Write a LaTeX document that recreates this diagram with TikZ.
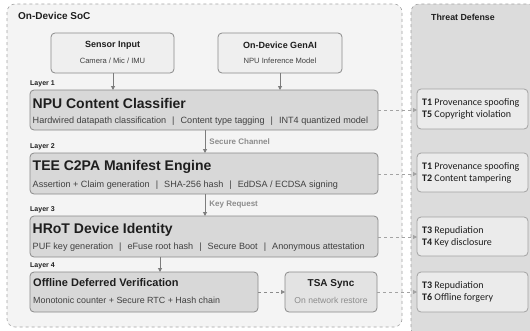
\documentclass[tikz,border=0pt]{standalone}
\usepackage{fontspec}
\setmainfont{Liberation Sans}
\newfontfamily\threatfont{Carlito}
\usetikzlibrary{arrows.meta}
\definecolor{panelA}{HTML}{F4F4F4}
\definecolor{panelB}{HTML}{DCDCDC}
\definecolor{layerfill}{HTML}{D8D8D8}
\definecolor{srcfill}{HTML}{EFEFEF}
\definecolor{threatfill}{HTML}{EBEBEB}
\definecolor{edge}{HTML}{8A8A8A}
\definecolor{ink}{HTML}{1E1E1E}
\definecolor{soft}{HTML}{8C8C8C}
% separator between feature items
\newcommand{\featsep}{\hspace{3.5pt} | \hspace{3.5pt}}
\tikzset{
  panel/.style={draw=soft!80, dashed, rounded corners=8pt, line width=0.6pt},
  box/.style={draw=edge, rounded corners=4pt, line width=0.8pt},
  flow/.style={draw=edge!90!black, line width=0.9pt, -{Triangle[length=4pt,width=4pt]}},
  guard/.style={draw=soft!80, dashed, line width=0.8pt, -{Triangle[length=4pt,width=4pt]}},
  lbl/.style={font=\bfseries\fontsize{7}{8}\selectfont, text=ink, anchor=west, inner sep=0pt},
  ttl/.style={font=\bfseries\fontsize{14}{16}\selectfont, text=ink, anchor=west, inner sep=0pt},
  sub/.style={font=\fontsize{9.1}{11}\selectfont, text=ink!85, anchor=west, inner sep=0pt},
  thr/.style={font=\threatfont\fontsize{10}{12}\selectfont, text=ink, anchor=west, inner sep=0pt, align=left},
  mid/.style={font=\bfseries\fontsize{8}{9}\selectfont, text=soft, inner sep=0pt},
}
\begin{document}
\begin{tikzpicture}[x=1pt,y=-1pt]
\useasboundingbox (0,0) rectangle (530,330);
% panels
\draw[panel, fill=panelA] (7,4) rectangle (402,327);
\draw[panel, fill=panelB] (411,4) rectangle (536,336);
\node[font=\bfseries\fontsize{10}{12}\selectfont, anchor=west, inner sep=0pt, text=ink] (soc) at (18,16) {On-Device SoC};
\node[font=\bfseries\fontsize{8.8}{10}\selectfont, inner sep=0pt, text=ink] (td) at (463,17) {Threat Defense};

% sources
\draw[box, fill=srcfill] (51,33) rectangle (174,73);
\node[font=\bfseries\fontsize{9}{10}\selectfont, inner sep=0pt, text=ink] (sensT) at (112.5,45) {Sensor Input};
\node[font=\fontsize{7.6}{9}\selectfont, inner sep=0pt, text=ink!85] (sensS) at (112.5,61) {Camera / Mic / IMU};
\coordinate (sensB) at (113,73);
\draw[box, fill=srcfill] (218,33) rectangle (342,73);
\node[font=\bfseries\fontsize{9}{10}\selectfont, inner sep=0pt, text=ink] (genT) at (280,45) {On-Device GenAI};
\node[font=\fontsize{7.6}{9}\selectfont, inner sep=0pt, text=ink!85] (genS) at (280,61) {NPU Inference Model};
\coordinate (genB) at (280,73);

% layer 1
\node[lbl] (l1) at (30,84) {Layer 1};
\draw[box, fill=layerfill] (30,90) rectangle (378,130);
\node[ttl] (npuT) at (32.5,103) {NPU Content Classifier};
\node[sub] (npuS) at (32.5,121.5) {Hardwired datapath classification\featsep Content type tagging\featsep INT4 quantized model};
\coordinate (npuTop1) at (113,90);
\coordinate (npuTop2) at (280,90);
\coordinate (npuBot) at (205,130);
\coordinate (npuR) at (378,110);

% layer 2
\node[lbl] (l2) at (30,147) {Layer 2};
\draw[box, fill=layerfill] (30,153) rectangle (378,194);
\node[ttl] (teeT) at (32.5,167) {TEE C2PA Manifest Engine};
\node[sub] (teeS) at (32.5,185) {Assertion + Claim generation\featsep SHA-256 hash\featsep EdDSA / ECDSA signing};
\coordinate (teeTop) at (205,153);
\coordinate (teeBot) at (205,194);
\coordinate (teeR) at (378,174);

% layer 3
\node[lbl] (l3) at (30,210) {Layer 3};
\draw[box, fill=layerfill] (30,216) rectangle (378,257);
\node[ttl] (hrotT) at (32.5,230) {HRoT Device Identity};
\node[sub] (hrotS) at (32.5,247.5) {PUF key generation\featsep eFuse root hash\featsep Secure Boot\featsep Anonymous attestation};
\coordinate (hrotTop) at (205,216);
\coordinate (hrotBot) at (160,257);
\coordinate (hrotR) at (378,237);

% layer 4
\node[lbl] (l4) at (30,266) {Layer 4};
\draw[box, fill=layerfill] (30,272) rectangle (258,312);
\node[font=\bfseries\fontsize{11}{13}\selectfont, text=ink, anchor=west, inner sep=0pt] (offT) at (33,283) {Offline Deferred Verification};
\node[font=\fontsize{8.9}{10}\selectfont, text=ink!85, anchor=west, inner sep=0pt] (offS) at (33,300) {Monotonic counter + Secure RTC + Hash chain};
\coordinate (offTop) at (160,272);
\coordinate (offR) at (258,292);

% TSA
\draw[box, fill=srcfill!95!black] (285,272) rectangle (377,312);
\node[font=\bfseries\fontsize{10}{12}\selectfont, inner sep=0pt, text=ink] (tsaT) at (331,284) {TSA Sync};
\node[font=\fontsize{8.6}{10}\selectfont, inner sep=0pt, text=soft] (tsaS) at (331,300) {On network restore};
\coordinate (tsaL) at (285,292);
\coordinate (tsaR) at (377,292);

% flows
\draw[flow] (sensB) -- (npuTop1);
\draw[flow] (genB) -- (npuTop2);
\draw[flow] (npuBot) -- (teeTop) node[mid, pos=0.5, anchor=west, xshift=4pt] (sc) {Secure Channel};
\draw[flow] (teeBot) -- (hrotTop) node[mid, pos=0.5, anchor=west, xshift=4pt] (kr) {Key Request};
\draw[flow] (hrotBot) -- (offTop);
\draw[guard, draw=edge] (offR) -- (tsaL);

% threat boxes
\draw[box, draw=soft!80, fill=threatfill] (417,89) rectangle (528,129);
\node[thr] (th1) at (422,109) {\textbf{T1} Provenance spoofing\\\textbf{T5} Copyright violation};
\coordinate (th1L) at (417,110);
\draw[box, draw=soft!80, fill=threatfill] (417,153) rectangle (528,192);
\node[thr] (th2) at (422,172.5) {\textbf{T1} Provenance spoofing\\\textbf{T2} Content tampering};
\coordinate (th2L) at (417,174);
\draw[box, draw=soft!80, fill=threatfill] (417,217) rectangle (528,256);
\node[thr] (th3) at (422,236.5) {\textbf{T3} Repudiation\\\textbf{T4} Key disclosure};
\coordinate (th3L) at (417,237);
\draw[box, draw=soft!80, fill=threatfill] (417,272) rectangle (528,312);
\node[thr] (th4) at (422,292) {\textbf{T3} Repudiation\\\textbf{T6} Offline forgery};
\coordinate (th4L) at (417,292);

\draw[guard] (npuR) -- (th1L);
\draw[guard] (teeR) -- (th2L);
\draw[guard] (hrotR) -- (th3L);
\draw[guard] (tsaR) -- (th4L);
\end{tikzpicture}
\end{document}
